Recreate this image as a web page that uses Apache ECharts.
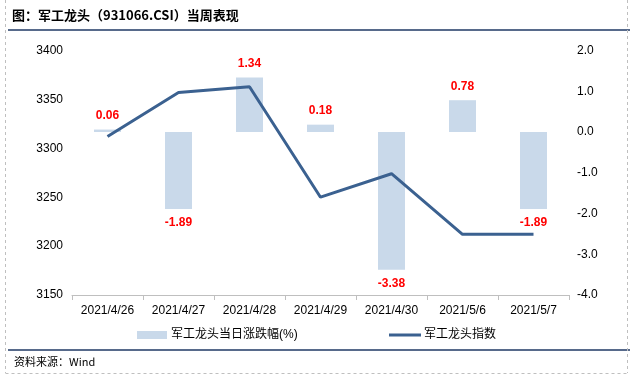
<!DOCTYPE html>
<html><head><meta charset="utf-8">
<script src="https://cdn.jsdelivr.net/npm/echarts@6/dist/echarts.min.js"></script>
<style>html,body{margin:0;padding:0;background:#fff}#c{width:636px;height:385px}</style>
</head><body><div id="c"></div>
<script>
const categories = ['2021/4/26','2021/4/27','2021/4/28','2021/4/29','2021/4/30','2021/5/6','2021/5/7'];
const changePct = [0.06, -1.89, 1.34, 0.18, -3.38, 0.78, -1.89];
const indexValues = [3312, 3357, 3363, 3250, 3274, 3212, 3212];
const leftTicks = [3150, 3400, 50];
const rightTicks = [-4, 2, 1];
const FONT = '"Liberation Sans", Arial, "Noto Sans CJK SC", sans-serif';
const chart = echarts.init(document.getElementById('c'));
chart.setOption({
  animation: false,
  textStyle: {fontFamily: FONT},
  grid: {left: 72, right: 67, top: 50.5, bottom: 90},
  legend: [
    {left: 132, top: 324, itemWidth: 30, itemHeight: 8, itemGap: 4,
     textStyle: {fontSize: 12, color: '#000', fontFamily: FONT, padding: [0, 0, 0, -1]},
     data: [{name: '军工龙头当日涨跌幅(%)', icon: 'rect'}]},
    {left: 384, top: 324, itemWidth: 32, itemHeight: 3, itemGap: 4,
     textStyle: {fontSize: 12, color: '#000', fontFamily: FONT, padding: [0, 0, 0, -2]},
     data: [{name: '军工龙头指数', icon: 'rect'}]}
  ],
  xAxis: {
    type: 'category', data: categories,
    axisLine: {onZero: false, lineStyle: {color: '#bfbfbf'}},
    axisTick: {show: true, lineStyle: {color: '#bfbfbf'}},
    axisLabel: {color: '#000', fontSize: 12, margin: 10}
  },
  yAxis: [
    {type: 'value', min: leftTicks[0], max: leftTicks[1], interval: leftTicks[2],
     splitLine: {show: false}, axisLine: {show: false}, axisTick: {show: false},
     axisLabel: {color: '#000', fontSize: 12, margin: 9, formatter: v => String(v)}},
    {type: 'value', min: rightTicks[0], max: rightTicks[1], interval: rightTicks[2],
     splitLine: {show: false}, axisLine: {show: false}, axisTick: {show: false},
     axisLabel: {color: '#000', fontSize: 12, margin: 8, formatter: v => v.toFixed(1)}}
  ],
  series: [
    {name: '军工龙头当日涨跌幅(%)', type: 'bar', yAxisIndex: 1,
     data: changePct.map(v => ({value: v, label: {position: v < 0 ? 'bottom' : 'top'}})),
     barWidth: 27, itemStyle: {color: '#c9d9ea'},
     label: {show: true, color: '#ff0000', fontWeight: 'bold', fontSize: 12, distance: 8,
       formatter: p => p.value.toFixed(2)}
    },
    {name: '军工龙头指数', type: 'line', yAxisIndex: 0, data: indexValues,
     symbol: 'none', lineStyle: {color: '#3b6190', width: 3}, itemStyle: {color: '#3b6190'}}
  ],
  graphic: [
    {type: 'text', left: 12, top: 9, style: {text: '图：军工龙头（931066.CSI）当周表现', fontSize: 13, fontWeight: 'bold', fill: '#000', fontFamily: '"Noto Sans CJK SC", sans-serif'}},
    {type: 'line', shape: {x1: 8, y1: 30, x2: 630, y2: 30}, style: {stroke: '#1f3864', lineWidth: 1.5}},
    {type: 'line', shape: {x1: 8, y1: 350, x2: 630, y2: 350}, style: {stroke: '#1f3864', lineWidth: 1.5}},
    {type: 'text', left: 14, top: 356, style: {text: '资料来源：Wind', fontSize: 11, fill: '#000', fontFamily: '"Noto Sans CJK SC", sans-serif'}},
    {type: 'line', shape: {x1: 5.5, y1: 0, x2: 5.5, y2: 373}, style: {stroke: '#bfbfbf', lineDash: [3, 3], lineWidth: 1}},
    {type: 'line', shape: {x1: 627.5, y1: 0, x2: 627.5, y2: 373}, style: {stroke: '#bfbfbf', lineDash: [3, 3], lineWidth: 1}},
    {type: 'line', shape: {x1: 5.5, y1: 373.5, x2: 627.5, y2: 373.5}, style: {stroke: '#bfbfbf', lineDash: [3, 3], lineWidth: 1}}
  ]
});
</script></body></html>
